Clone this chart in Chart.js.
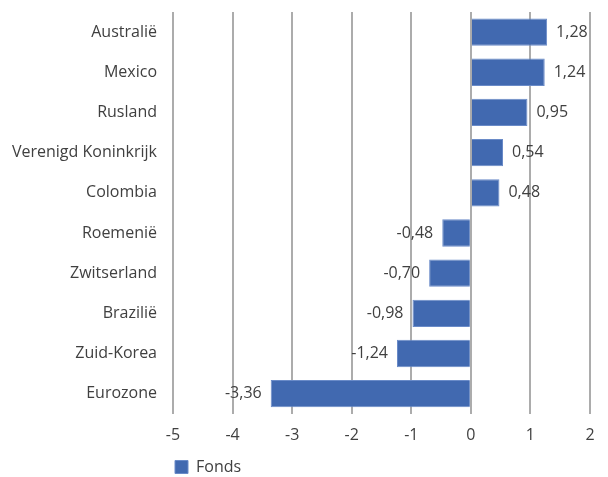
<!DOCTYPE html>
<html lang="nl">
<head>
  <meta charset="UTF-8" />
  <title>Fonds</title>
  <script src="https://cdn.jsdelivr.net/npm/chart.js"></script>
  <style>
    html, body { margin: 0; padding: 0; background: #fff; }
  </style>
</head>
<body>
  <canvas id="chart" width="608" height="477"></canvas>

  <script>
    const labels = ['Australië', 'Mexico', 'Rusland', 'Verenigd Koninkrijk', 'Colombia',
                    'Roemenië', 'Zwitserland', 'Brazilië', 'Zuid-Korea', 'Eurozone'];
    const fonds = [1.28, 1.24, 0.95, 0.54, 0.48, -0.48, -0.70, -0.98, -1.24, -3.36];
    const xMin = -5;
    const xMax = 2;

    const textColor = '#404040';
    const fontFamily = "'Open Sans', 'Noto Sans', sans-serif";

    // draw value labels next to the bar ends
    const valueLabels = {
      id: 'valueLabels',
      afterDatasetsDraw(chart) {
        const ctx = chart.ctx;
        const meta = chart.getDatasetMeta(0);
        ctx.save();
        ctx.font = '16px ' + fontFamily;
        ctx.fillStyle = textColor;
        ctx.textBaseline = 'middle';
        meta.data.forEach((bar, i) => {
          const v = fonds[i];
          const txt = v.toFixed(2).replace('.', ',');
          if (v >= 0) {
            ctx.textAlign = 'left';
            ctx.fillText(txt, bar.x + 9, bar.y);
          } else {
            ctx.textAlign = 'right';
            ctx.fillText(txt, bar.x - 9, bar.y);
          }
        });
        ctx.restore();
      }
    };

    new Chart(document.getElementById('chart'), {
      type: 'bar',
      data: {
        labels: labels,
        datasets: [{
          label: 'Fonds',
          data: fonds,
          backgroundColor: '#4169b0',
          borderColor: '#6a8bc8',
          borderWidth: 1,
          categoryPercentage: 1,
          barPercentage: 0.68
        }]
      },
      options: {
        indexAxis: 'y',
        responsive: false,
        animation: false,
        devicePixelRatio: 1,
        layout: { padding: { top: 12, right: 18, bottom: -8, left: 0 } },
        plugins: {
          legend: {
            position: 'bottom',
            align: 'start',
            fullSize: false,
            labels: {
              boxWidth: 13,
              boxHeight: 13,
              padding: 2,
              color: textColor,
              font: { size: 16, family: fontFamily }
            }
          },
          tooltip: { enabled: false }
        },
        scales: {
          x: {
            min: xMin,
            max: xMax,
            ticks: {
              stepSize: 1,
              maxRotation: 0,
              color: textColor,
              padding: 12,
              font: { size: 16, family: fontFamily },
              callback: (v) => String(v)
            },
            grid: { color: '#acacac', lineWidth: 2, drawTicks: false },
            border: { display: false }
          },
          y: {
            ticks: {
              autoSkip: false,
              color: textColor,
              padding: 8,
              font: { size: 16, family: fontFamily }
            },
            grid: { display: false },
            border: { display: false },
            afterFit(scale) {
              scale.width = 173;
              scale.paddingTop = 0;
              scale.paddingBottom = 0;
            }
          }
        }
      },
      plugins: [valueLabels]
    });
  </script>
</body>
</html>
